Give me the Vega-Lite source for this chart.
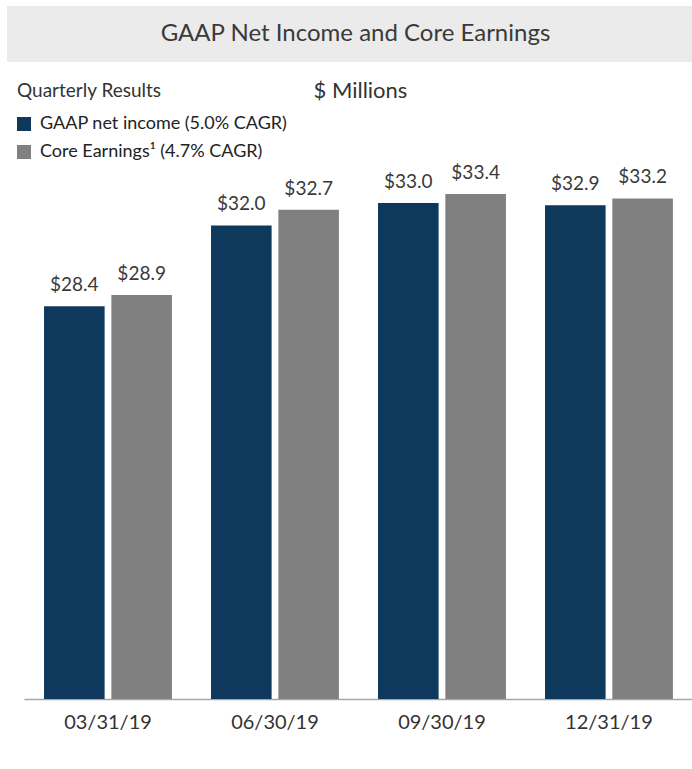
{
  "$schema": "https://vega.github.io/schema/vega-lite/v6.json",
  "background": "white",
  "padding": {"left": 7, "top": 6, "right": 0, "bottom": 0},
  "config": {
    "view": {"stroke": null},
    "font": "Lato",
    "text": {"font": "Lato"}
  },
  "spacing": 13,
  "vconcat": [
    {
      "width": 685,
      "height": 56,
      "view": {"fill": "#ebebeb", "stroke": null},
      "data": {"values": [{"heading": "GAAP Net Income and Core Earnings"}]},
      "mark": {"type": "text", "fontSize": 24, "color": "#3a3a3a", "font": "Lato", "dx": 6, "baseline": "middle"},
      "encoding": {"text": {"field": "heading"}}
    },
    {
      "width": 685,
      "height": 624,
      "data": {
        "values": [
          {"quarter": "03/31/19", "series": "GAAP net income (5.0% CAGR)", "value": 28.4, "label": "$28.4"},
          {"quarter": "03/31/19", "series": "Core Earnings¹ (4.7% CAGR)", "value": 28.9, "label": "$28.9"},
          {"quarter": "06/30/19", "series": "GAAP net income (5.0% CAGR)", "value": 32.0, "label": "$32.0"},
          {"quarter": "06/30/19", "series": "Core Earnings¹ (4.7% CAGR)", "value": 32.7, "label": "$32.7"},
          {"quarter": "09/30/19", "series": "GAAP net income (5.0% CAGR)", "value": 33.0, "label": "$33.0"},
          {"quarter": "09/30/19", "series": "Core Earnings¹ (4.7% CAGR)", "value": 33.4, "label": "$33.4"},
          {"quarter": "12/31/19", "series": "GAAP net income (5.0% CAGR)", "value": 32.9, "label": "$32.9"},
          {"quarter": "12/31/19", "series": "Core Earnings¹ (4.7% CAGR)", "value": 33.2, "label": "$33.2"}
        ]
      },
      "encoding": {
        "x": {
          "field": "quarter",
          "type": "nominal",
          "sort": ["03/31/19", "06/30/19", "09/30/19", "12/31/19"],
          "scale": {"paddingInner": 0.234, "paddingOuter": 0.168, "align": 0.66},
          "axis": {
            "title": null,
            "labelAngle": 0,
            "labelFontSize": 20,
            "labelColor": "#333333",
            "labelFont": "Lato",
            "labelPadding": 13,
            "ticks": false,
            "domainColor": "#a6a6a6",
            "domainWidth": 1.5,
            "domainDash": [0, 17, 700, 0]
          }
        },
        "xOffset": {
          "field": "series",
          "type": "nominal",
          "sort": ["GAAP net income (5.0% CAGR)", "Core Earnings¹ (4.7% CAGR)"],
          "scale": {"paddingInner": 0.1, "paddingOuter": 0}
        },
        "y": {
          "field": "value",
          "type": "quantitative",
          "stack": null,
          "scale": {"domain": [10.9, 38.7], "zero": false, "nice": false},
          "axis": {
            "labels": false,
            "ticks": false,
            "domain": false,
            "grid": false,
            "title": "$ Millions",
            "titleAngle": 0,
            "titleX": 306,
            "titleY": 22,
            "titleAlign": "left",
            "titleBaseline": "alphabetic",
            "titleFontSize": 22,
            "titleFontWeight": "normal",
            "titleColor": "#333333",
            "titleFont": "Lato"
          }
        }
      },
      "layer": [
        {
          "mark": {"type": "bar"},
          "encoding": {
            "color": {
              "field": "series",
              "type": "nominal",
              "sort": ["GAAP net income (5.0% CAGR)", "Core Earnings¹ (4.7% CAGR)"],
              "scale": {"range": ["#0e395d", "#808080"]},
              "legend": {
                "orient": "none",
                "legendX": 10,
                "legendY": 76,
                "title": "Quarterly Results",
                "titleFontSize": 19,
                "titleFontWeight": "normal",
                "titleColor": "#333333",
                "titleFont": "Lato",
                "titlePadding": 14,
                "labelFontSize": 18,
                "labelColor": "#222222",
                "labelFont": "Lato",
                "labelLimit": 400,
                "symbolType": "square",
                "symbolSize": 196,
                "symbolStrokeWidth": 0,
                "symbolOffset": -2,
                "rowPadding": 10,
                "labelOffset": 7,
                "padding": 0
              }
            }
          }
        },
        {
          "mark": {"type": "text", "baseline": "alphabetic", "dy": -15, "fontSize": 19, "color": "#3a3a3a", "font": "Lato"},
          "encoding": {"text": {"field": "label"}}
        }
      ]
    }
  ]
}
